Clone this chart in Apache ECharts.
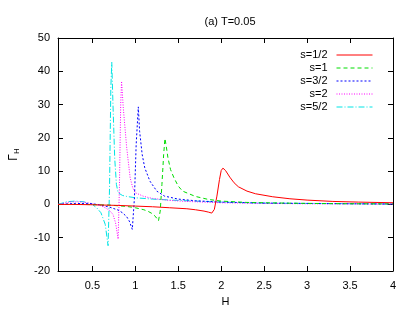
<!DOCTYPE html>
<html><head><meta charset="utf-8">
<script src="https://cdn.jsdelivr.net/npm/echarts@6/dist/echarts.min.js"></script>
<style>html,body{margin:0;padding:0;background:#fff}#c{width:415px;height:312px}</style>
</head><body><div id="c"></div>
<script>
const xTicks = [0.5,1,1.5,2,2.5,3,3.5,4];
const names = ['s=1/2','s=1','s=3/2','s=2','s=5/2'];

const hHalf = [0.1,0.3,0.5,0.8,1.0,1.2,1.4,1.6,1.7,1.8,1.85,1.89,1.92,1.95,1.98,2.0,2.02,2.05,2.1,2.15,2.2,2.3,2.4,2.6,2.8,3.0,3.3,3.6,4.0];
const gHalf = [0,0,-0.1,-0.3,-0.5,-0.7,-1.0,-1.3,-1.6,-2.0,-2.3,-2.6,-1.5,2.5,7.5,10.2,10.9,10.2,8.2,6.5,5.3,4.0,3.2,2.3,1.7,1.3,0.9,0.7,0.5];

const hOne = [0.1,0.4,0.7,0.9,1.0,1.1,1.15,1.2,1.24,1.27,1.29,1.31,1.33,1.345,1.36,1.38,1.41,1.45,1.5,1.55,1.7,1.85,2.0,2.3,2.6,3.0,3.5,4.0];
const gOne = [0,0,-0.2,-0.6,-1.0,-1.6,-2.1,-2.8,-3.8,-4.9,-2,6,15,19.8,17.5,14,10.5,8,5.5,4,2.4,1.5,1.0,0.6,0.45,0.3,0.2,0.15];

const hThreeHalf = [0.1,0.3,0.5,0.6,0.7,0.8,0.85,0.9,0.93,0.965,0.99,1.01,1.035,1.05,1.08,1.11,1.17,1.25,1.34,1.5,1.7,2.0,2.5,3.0,3.5,4.0];
const gThreeHalf = [0,0.3,0.2,-0.2,-0.8,-1.7,-2.5,-3.7,-5,-7.5,2,18,29.3,22,15,11,7,4,2.5,1.6,1.1,0.7,0.4,0.3,0.2,0.1];

const hTwo = [0.1,0.25,0.4,0.5,0.59,0.65,0.7,0.74,0.77,0.8,0.815,0.83,0.84,0.86,0.9,0.94,0.97,1.0,1.1,1.2,1.4,1.6,2.0,2.5,3.0,4.0];
const gTwo = [0,0.8,0.7,0.2,-0.3,-1.0,-1.8,-3,-5.5,-10.4,5,30,37,29,17,8,5,3.5,2.4,1.8,1.2,0.9,0.5,0.3,0.2,0.1];

const hFiveHalf = [0.1,0.2,0.3,0.4,0.5,0.55,0.6,0.65,0.683,0.7,0.715,0.726,0.74,0.76,0.78,0.8,0.85,0.9,1.0,1.2,1.5,2.0,2.5,3.0,4.0];
const gFiveHalf = [0,0.8,1.0,0.8,0,-1,-2.5,-6,-12.4,5,35,42.7,30,14,6,3.5,2.7,2.4,2.0,1.6,1.2,0.7,0.4,0.3,0.15];

const xs = [hHalf,hOne,hThreeHalf,hTwo,hFiveHalf];
const ys = [gHalf,gOne,gThreeHalf,gTwo,gFiveHalf];
const colors = ['#ff0000','#00dd00','#0000ff','#ff00ff','#00e5e5'];
const dashes = ['solid',[4,3],[2,2],[1,1.5],[6,2,1,2]];

const font = 'Liberation Sans, Arial, sans-serif';
const chart = echarts.init(document.getElementById('c'));
chart.setOption({
  animation: false,
  backgroundColor: '#fff',
  title: {text: '(a) T=0.05', left: 225, top: 11, textAlign: 'center',
    textStyle: {fontFamily: font, fontSize: 11, fontWeight: 'normal', color: '#000'}},
  grid: {left: 57, right: 22, top: 38, bottom: 39},
  legend: {orient: 'vertical', right: 37, top: 43.5, itemGap: 0, itemWidth: 36, itemHeight: 11,
    align: 'right',
    data: names.map((n, i) => ({name: n,
      itemStyle: {opacity: 0},
      lineStyle: {color: colors[i], width: 1, type: dashes[i], opacity: 1}})),
    textStyle: {fontFamily: font, fontSize: 11, color: '#000', width: 46, align: 'right', lineHeight: 13, padding: [0,4,0,0]}},
  xAxis: [{type: 'value', min: 0.1, max: 4,
    name: 'H', nameLocation: 'middle', nameGap: 25,
    nameTextStyle: {fontFamily: font, fontSize: 11, color: '#000'},
    axisLine: {onZero: false, lineStyle: {color: '#000', width: 1}},
    axisTick: {inside: true, length: 5, lineStyle: {color: '#000'}, customValues: xTicks},
    axisLabel: {fontFamily: font, fontSize: 11, color: '#000', margin: 9, customValues: xTicks},
    splitLine: {show: false}},
   {type: 'value', position: 'top', min: 0.1, max: 4,
    axisLine: {onZero: false, lineStyle: {color: '#000', width: 1}},
    axisTick: {inside: true, length: 5, lineStyle: {color: '#000'}, customValues: xTicks},
    axisLabel: {show: false}, splitLine: {show: false}}],
  yAxis: [{type: 'value', min: -20, max: 50, interval: 10,
    name: '{g|Γ}{s|H}', nameLocation: 'middle', nameGap: 37, nameRotate: 90,
    nameTextStyle: {rich: {g: {fontFamily: font, fontSize: 12, color: '#000'},
                           s: {fontFamily: font, fontSize: 8, color: '#000', padding: [6,0,0,0]}}},
    axisLine: {onZero: false, lineStyle: {color: '#000', width: 1}},
    axisTick: {inside: true, length: 5, lineStyle: {color: '#000'}},
    axisLabel: {fontFamily: font, fontSize: 11, color: '#000', margin: 8},
    splitLine: {show: false}},
   {type: 'value', position: 'right', min: -20, max: 50, interval: 10,
    axisLine: {show: true, onZero: false, lineStyle: {color: '#000', width: 1}},
    axisTick: {show: true, inside: true, length: 5, lineStyle: {color: '#000'}},
    axisLabel: {show: false}, splitLine: {show: false}}],
  series: names.map((n, i) => ({
    name: n, type: 'line', showSymbol: false, symbol: 'none',
    data: xs[i].map((h, j) => [h, ys[i][j]]),
    lineStyle: {color: colors[i], width: 1, type: dashes[i]},
    itemStyle: {color: colors[i]},
    z: 10 - i
  }))
});
</script></body></html>
